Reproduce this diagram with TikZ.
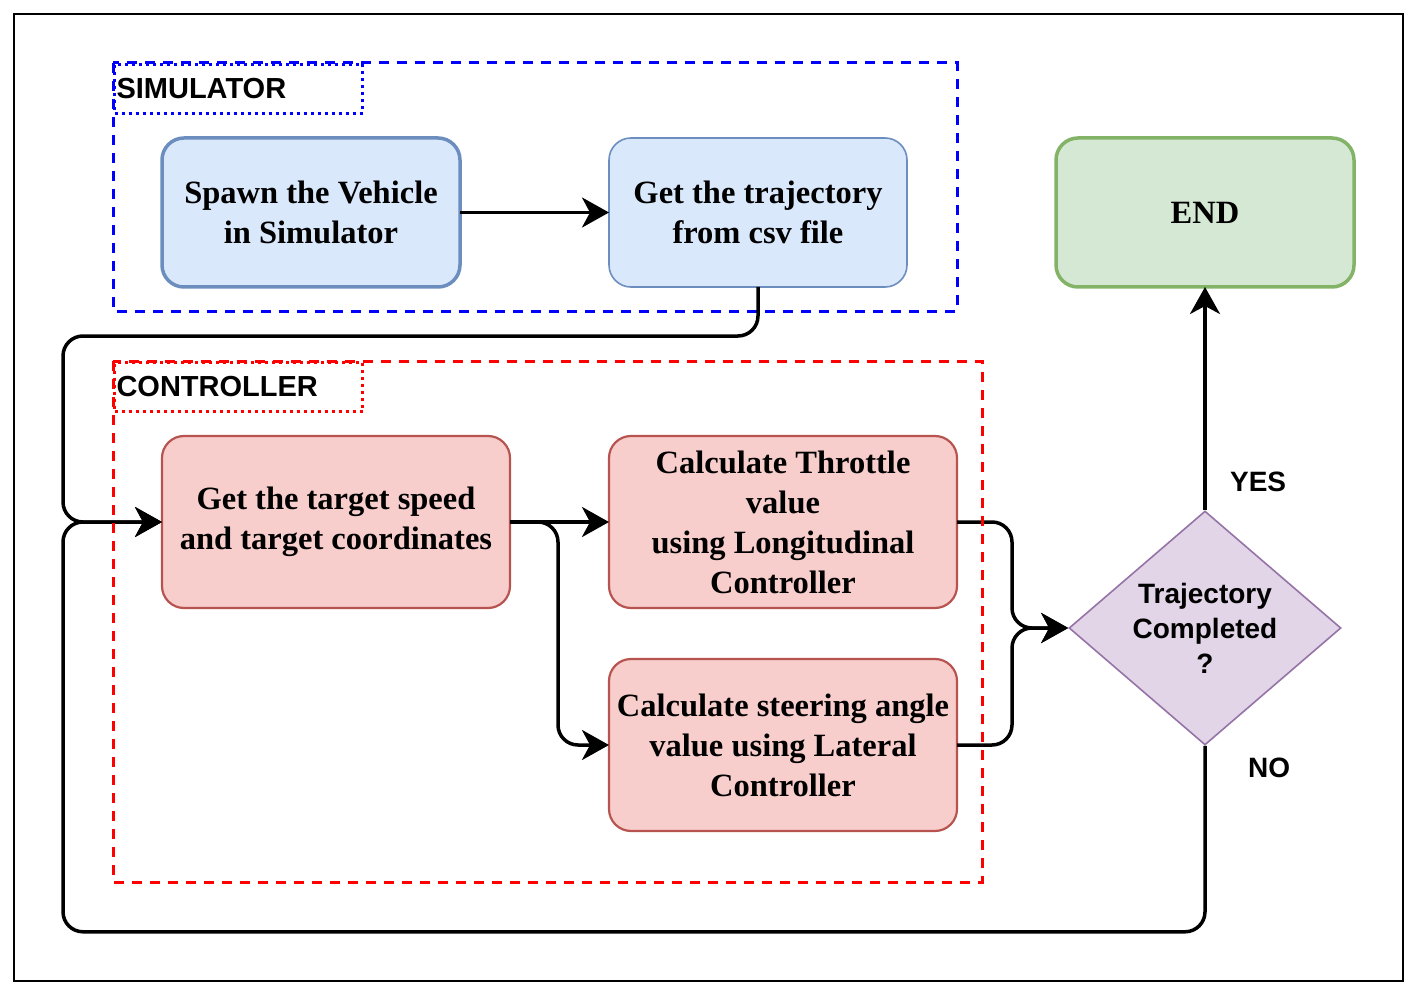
\documentclass[tikz,border=0pt]{standalone}
\usepackage{fontspec}
\setmainfont{Liberation Serif}
\setsansfont{Liberation Sans}
\usepackage{tikz}
\usetikzlibrary{arrows.meta,positioning,shapes.geometric}
\definecolor{bluefill}{HTML}{DAE8FC}
\definecolor{bluedraw}{HTML}{6C8EBF}
\definecolor{redfill}{HTML}{F8CECC}
\definecolor{reddraw}{HTML}{B85450}
\definecolor{greenfill}{HTML}{D5E8D4}
\definecolor{greendraw}{HTML}{82B366}
\definecolor{purplefill}{HTML}{E1D5E7}
\definecolor{purpledraw}{HTML}{9673A6}

\begin{document}
\begin{tikzpicture}[x=1pt,y=-1pt,
  box/.style={draw,rounded corners=22pt,minimum width=298pt,minimum height=149pt,inner sep=2pt,outer sep=0pt,align=center,font=\fontsize{32.5}{40}\selectfont\bfseries},
  redbox/.style={box,fill=redfill,draw=reddraw,line width=2.2pt,minimum width=348pt,minimum height=172pt},
  grp/.style={line width=3pt,dash pattern=on 10pt off 8pt},
  grplabel/.style={line width=3pt,dash pattern=on 3pt off 4pt,anchor=north west,minimum height=49pt,text width=244pt,inner xsep=2pt,inner ysep=0pt,align=left,font=\sffamily\bfseries\fontsize{29}{35}\selectfont},
  lbl/.style={font=\sffamily\bfseries\fontsize{28}{35}\selectfont},
  flow/.style={line width=3.5pt,rounded corners=20pt,-{Stealth[length=27pt,width=30pt,inset=8pt]}},
  node distance=149pt]
\useasboundingbox (0,0) rectangle (1417,995);
\draw[line width=1.5pt] (14,14) rectangle (1403,981);
\draw[grp,blue] (113,63) rectangle (957,311);
\node[grplabel,draw=blue] (sim) at (113,63) {SIMULATOR};
\node[box,fill=bluefill,draw=bluedraw,line width=3.5pt] (a) at (311,212.5) {Spawn the Vehicle\\in Simulator};
\node[box,fill=bluefill,draw=bluedraw,line width=1.6pt,right=of a] (b) {Get the trajectory\\from csv file};
\node[box,fill=greenfill,draw=greendraw,line width=3.5pt] (c) at (1205,212.5) {END};
\node[redbox] (d) at (336,522) {Get the target speed\\and target coordinates};
\node[redbox,right=99pt of d] (e) {Calculate Throttle\\value\\using Longitudinal\\Controller};
\node[redbox,below=51pt of e] (f) {Calculate steering angle\\value using Lateral\\Controller};
\node[diamond,aspect=1.16,minimum width=272pt,minimum height=234pt,inner sep=0pt,fill=purplefill,draw=purpledraw,line width=1.6pt,align=center,lbl] (g) at (1205,628) {Trajectory\\Completed\\?};
\draw[flow] (a) -- (b);
\draw[flow] (b.south) -- ++(0,49) -| ([xshift=-99pt]d.west) -- (d.west);
\draw[flow] (g.south) -- node[lbl,pos=0.12,anchor=west,xshift=38pt] {NO} ++(0,186) -| ([xshift=-99pt]d.west) -- (d.west);
\draw[flow] (d.east) -- (e.west);
\draw[flow] (d.east) -- ++(48,0) |- (f.west);
\draw[flow] (e.east) -- ++(55,0) |- (g.west);
\draw[flow] (f.east) -- ++(55,0) |- (g.west);
\draw[flow] (g.north) -- node[lbl,pos=0.125,anchor=west,xshift=20pt] {YES} (c.south);
\draw[grp,red] (113,361) rectangle (982,882);
\node[grplabel,draw=red] (ctrl) at (113,361) {CONTROLLER};
\end{tikzpicture}
\end{document}
